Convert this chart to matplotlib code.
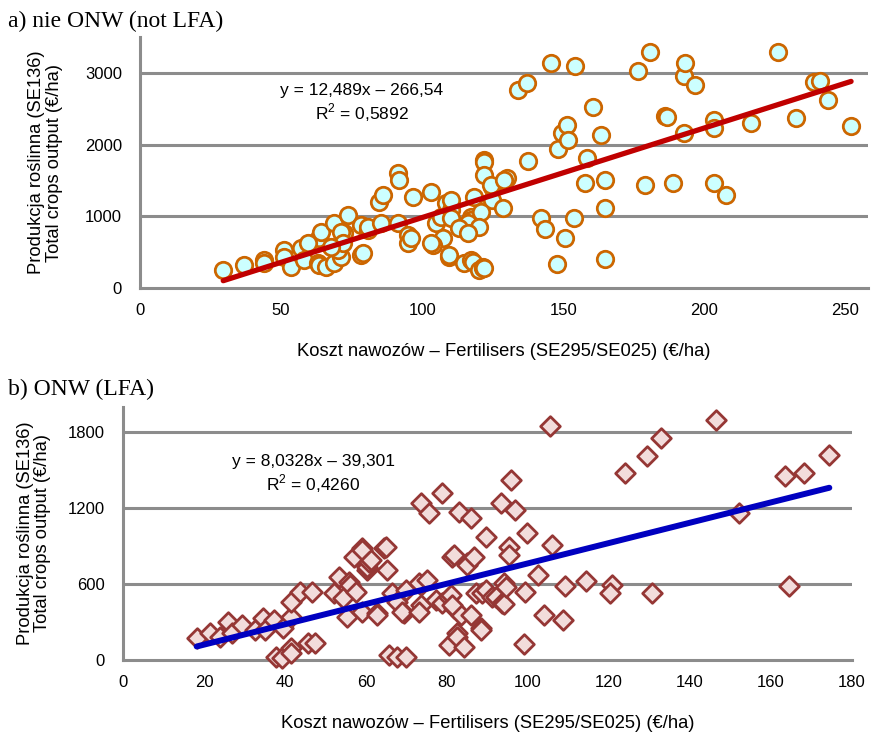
import matplotlib
matplotlib.use("Agg")
import matplotlib.pyplot as plt
import numpy as np

# ---------------- data ----------------
# Panel a: nie ONW (not LFA)
a_x = [29.5, 36.7, 43.8, 43.8, 51, 51, 57, 53.4, 58, 63.3, 64, 63, 63.3, 65.8, 68.7, 68.7,
       73.7, 72.2, 71.2, 71.2, 70, 78.3, 79, 78.3, 80.8, 80.8, 84.7, 86, 85.4, 91.5, 91.8,
       96.8, 91.5, 95, 95, 96, 103.2, 105, 106.8, 107.5, 104, 108.5, 110.3, 110.3, 103.2,
       109.6, 109.6, 115, 117.4, 118, 120, 121.7, 121.4, 122, 117.4, 117.4, 116.4, 122, 122,
       122, 118.5, 124.6, 124.6, 124.5, 121, 128.8, 130, 129, 133.8, 137, 137.4, 142, 143.4,
       145.6, 148, 149.5, 150.5, 151.2, 151.6, 153.7, 154, 147.7, 157.7, 158.4, 160.5, 163.3,
       164.8, 164.8, 164.8, 176.5, 179, 180.8, 186, 186.8, 189, 192.9, 192.9, 193, 196.8,
       203.6, 203.6, 203.6, 207.5, 216.6, 226, 232.5, 239, 241, 244, 252,
       110.3, 113, 120, 116.4, 72, 67.6, 59.4]
a_y = [251, 321, 391, 349, 530, 432, 558, 293, 391, 697, 781, 349, 321, 293, 907, 349,
       1018, 767, 781, 432, 530, 460, 488, 879, 809, 851, 1199, 1297, 907, 1604, 1506,
       1269, 907, 739, 628, 697, 1339, 907, 990, 697, 600, 1185, 1088, 1227, 628,
       432, 460, 349, 391, 363, 251, 293, 279, 279, 990, 948, 907, 1785, 1757,
       1576, 1269, 1227, 1409, 1436, 1060, 1116, 1534, 1506, 2762, 2860, 1771, 976, 823,
       3138, 1939, 2162, 697, 2273, 2064, 976, 3096, 335, 1464, 1813, 2524, 2134,
       1506, 1116, 404, 3027, 1436, 3290, 2399, 2385, 1464, 2957, 2162, 3138, 2831,
       2343, 2231, 1464, 1297, 2301, 3290, 2371, 2873, 2887, 2622, 2259,
       976, 837, 851, 767, 628, 572, 628]
a_slope, a_intercept = 12.489, -266.54
a_eq = "y = 12,489x \u2013 266,54"
a_r2 = "R$^2$ = 0,5892"

# Panel b: ONW (LFA)
b_x = [18.2, 21.4, 23.9, 25.9, 27, 29.3, 32.5, 34.5, 35, 37.4, 39.4, 41.6, 41.6, 43.6, 46.6,
       37.9, 39.2, 41.6, 41.6, 45.6, 47.3, 53.4, 52.2, 54.2, 55.2, 55.9, 56, 57.6, 57.1, 59.1,
       58.9, 59.1, 60.3, 60.3, 60.8, 61.3, 62.8, 62.8, 64.5, 65, 65.3, 65.8, 67.7, 69.9, 66.5,
       67.7, 69.5, 69, 69.9, 73.6, 75.6, 78.8, 73.6, 73.1, 75.1, 73.6, 73.1, 77.3, 78.8, 80.5,
       81, 81.8, 81.3, 81.8, 83, 85.9, 85, 85, 86.7, 80.5, 82.5, 82.5, 84.2, 83.5, 86, 81.3,
       87.2, 88.4, 88.4, 88.7, 89.7, 89.7, 91.1, 92, 93.6, 94.1, 94.1, 94.6, 93.3, 95.8, 96.8,
       95.3, 95.3, 99.8, 99.3, 102.5, 103.9, 99, 105.4, 105.9, 108.6, 109.1, 114.3, 120.7,
       120.2, 123.9, 129.3, 130.5, 132.8, 146.5, 152.2, 163.5, 164.5, 168.2, 174.4]
b_y = [174, 213, 182, 300, 213, 276, 237, 331, 237, 316, 253, 339, 458, 537, 537,
       24, 16, 95, 55, 134, 134, 655, 529, 489, 339, 616, 592, 537, 813, 884,
       868, 379, 710, 734, 773, 789, 371, 355, 884, 892, 710, 39, 24, 24, 529,
       458, 371, 379, 553, 1239, 1160, 1318, 592, 608, 631, 434, 379, 474, 450, 497,
       513, 410, 813, 829, 1168, 1121, 765, 750, 813, 118, 213, 182, 103, 355, 355, 434,
       529, 253, 237, 529, 553, 971, 497, 497, 450, 442, 608, 576, 1239, 1421, 1184,
       892, 829, 1002, 537, 671, 355, 126, 1847, 908, 316, 584, 624, 592,
       529, 1476, 1610, 529, 1752, 1894, 1160, 1452, 584, 1476, 1618]
b_slope, b_intercept = 8.0328, -39.301
b_eq = "y = 8,0328x \u2013 39,301"
b_r2 = "R$^2$ = 0,4260"

ylabel_txt = "Produkcja ro\u015blinna (SE136)\nTotal crops output (\u20ac/ha)"
xlabel_txt = "Koszt nawoz\u00f3w \u2013 Fertilisers (SE295/SE025) (\u20ac/ha)"

# ---------------- style ----------------
plt.rcParams['font.family'] = ['Liberation Sans', 'DejaVu Sans']
plt.rcParams['mathtext.fontset'] = 'custom'
plt.rcParams['mathtext.rm'] = 'Liberation Sans'

fig = plt.figure(figsize=(8.72, 7.33), dpi=100)
GRID = '#8c8c8c'
FS = 12.5
LFS = 13.2


def style_axes(ax, xlim, ylim, xticks, yticks):
    ax.set_xlim(*xlim)
    ax.set_ylim(*ylim)
    ax.set_xticks(xticks)
    ax.set_yticks(yticks)
    for s in ['top', 'right']:
        ax.spines[s].set_visible(False)
    for s in ['left', 'bottom']:
        ax.spines[s].set_color(GRID)
        ax.spines[s].set_linewidth(2.2)
    ax.tick_params(length=0, labelsize=12)
    ax.tick_params(axis='y', pad=13)
    ax.tick_params(axis='x', pad=11)
    for t in yticks:
        if t > 0:
            ax.axhline(t, color=GRID, lw=2.2, zorder=0.5)


# Panel a
axa = fig.add_axes([140/872, 1-288/733, (868-140)/872, (288-37)/733])
style_axes(axa, (0, 258), (0, 3500), [0, 50, 100, 150, 200, 250], [0, 1000, 2000, 3000])
axa.scatter(a_x, a_y, s=140, marker='o', facecolor='#ccffff', edgecolor='#cc6600',
            linewidth=2.0, zorder=3, clip_on=False)
xa = np.array([min(a_x), max(a_x)])
axa.plot(xa, a_slope*xa + a_intercept, color='#c00000', lw=3.8, solid_capstyle='round', zorder=4)
axa.text(0.305, 0.735, a_eq + "\n" + a_r2, transform=axa.transAxes, ha='center', va='center',
         fontsize=FS, linespacing=1.2)
axa.set_ylabel(ylabel_txt, fontsize=LFS, labelpad=16, linespacing=1.05)
axa.set_xlabel(xlabel_txt, fontsize=LFS, labelpad=18)
fig.text(8/872, 1-21/733, "a) nie ONW (not LFA)", fontsize=17, va='center', ha='left',
         family=['Liberation Serif', 'DejaVu Serif'])

# Panel b
axb = fig.add_axes([123/872, 1-660/733, (852-123)/872, (660-407)/733])
style_axes(axb, (0, 180), (0, 2000), list(range(0, 181, 20)), [0, 600, 1200, 1800])
axb.scatter(b_x, b_y, s=100, marker='D', facecolor='#f2dcdb', edgecolor='#953735',
            linewidth=2.0, zorder=3, clip_on=False)
xb = np.array([min(b_x), max(b_x)])
axb.plot(xb, b_slope*xb + b_intercept, color='#0000c0', lw=4.3, solid_capstyle='round', zorder=4)
axb.text(0.261, 0.733, b_eq + "\n" + b_r2, transform=axb.transAxes, ha='center', va='center',
         fontsize=FS, linespacing=1.2)
axb.set_ylabel(ylabel_txt, fontsize=LFS, labelpad=12, linespacing=1.05)
axb.set_xlabel(xlabel_txt, fontsize=LFS, labelpad=18)
fig.text(8/872, 1-389/733, "b) ONW (LFA)", fontsize=17, va='center', ha='left',
         family=['Liberation Serif', 'DejaVu Serif'])

fig.savefig("out.png", dpi=100)
